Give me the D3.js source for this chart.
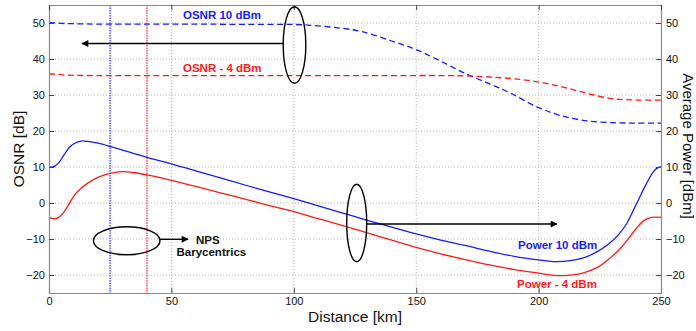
<!DOCTYPE html>
<html>
<head>
<meta charset="utf-8">
<script src="https://cdn.jsdelivr.net/npm/d3@7"></script>
<style>
  html, body { margin: 0; padding: 0; background: #fff; }
  svg { display: block; font-family: "Liberation Sans", Arial, Helvetica, sans-serif; }
</style>
</head>
<body>
<svg id="chart" width="696" height="331"></svg>
<script>
// Distance samples [km] and values for each trace
const osnr10Km  = [0, 5, 10, 20, 40, 60, 80, 100, 110, 120, 128, 140, 150, 160, 170, 180, 188, 200, 210, 220, 230, 240, 250];
const osnr10Val = [50.2, 49.9, 49.8, 49.7, 49.7, 49.7, 49.6, 49.6, 49.2, 48.5, 47.6, 45.0, 42.6, 39.4, 36.0, 33.1, 30.7, 26.5, 24.1, 22.8, 22.3, 22.2, 22.2];

const osnr4Km  = [0, 3, 8, 20, 60, 100, 140, 160, 170, 180, 190, 200, 210, 220, 230, 240, 250];
const osnr4Val = [35.9, 35.8, 35.5, 35.4, 35.4, 35.4, 35.4, 35.4, 35.3, 35.0, 34.5, 33.6, 32.2, 30.4, 29.0, 28.6, 28.6];

const pow10Km  = [0, 2, 4, 6, 8, 10, 13, 16, 20, 25, 30, 40, 50, 60, 70, 80, 90, 100, 110, 120, 130, 140, 150, 160, 170, 180, 190, 200, 207, 213, 218, 224, 229, 233, 236, 240, 244, 247, 249, 250];
const pow10Val = [10.0, 10.1, 11.2, 13.2, 15.2, 16.4, 17.2, 17.1, 16.6, 15.7, 14.7, 12.7, 10.9, 8.9, 7.0, 5.0, 3.1, 1.2, -0.8, -2.8, -4.8, -6.7, -8.6, -10.3, -11.8, -13.4, -14.8, -15.8, -16.3, -16.0, -15.3, -13.5, -11.2, -8.5, -5.7, -0.2, 5.3, 8.8, 9.9, 10.0];

const pow4Km  = [0, 2, 4, 6, 8, 10, 13, 16, 20, 25, 30, 35, 40, 50, 60, 70, 80, 90, 100, 110, 120, 130, 140, 150, 160, 170, 180, 190, 200, 206, 212, 218, 224, 229, 233, 236, 240, 243, 246, 248, 250];
const pow4Val = [-4.0, -4.4, -4.0, -2.6, -0.5, 1.8, 4.0, 5.6, 7.1, 8.2, 8.7, 8.4, 7.8, 6.3, 4.6, 2.8, 1.1, -0.7, -2.4, -4.35, -6.3, -8.3, -10.3, -12.3, -14.1, -15.7, -17.2, -18.5, -19.5, -20.1, -20.1, -19.5, -17.9, -15.4, -12.9, -10.5, -7.0, -4.9, -4.0, -3.9, -4.0];

// NPS barycentric distances [km]
const barycentricKm = [25, 40];

const xTicks = [0, 50, 100, 150, 200, 250];
const yTicks = [-20, -10, 0, 10, 20, 30, 40, 50];

const BLUE = "#1a1aff", RED = "#ff1a1a";

const svg = d3.select("#chart");
const L = 49, R = 661, T = 5, B = 293;

const x = d3.scaleLinear().domain([0, 250]).range([L, R]);
const y = d3.scaleLinear().domain([-25, 55]).range([B, T]);

// grid
const grid = svg.append("g").attr("stroke", "#b4b4b4").attr("stroke-width", 1).attr("stroke-dasharray", "1,2");
xTicks.slice(1, -1).forEach(t => grid.append("line")
  .attr("x1", x(t)).attr("x2", x(t)).attr("y1", T).attr("y2", B));
yTicks.forEach(t => grid.append("line")
  .attr("x1", L).attr("x2", R).attr("y1", y(t)).attr("y2", y(t)));

// barycentric markers
const baryColors = ["#4a4aff", "#ff4a4a"];
barycentricKm.forEach((km, i) => svg.append("line")
  .attr("x1", x(km)).attr("x2", x(km)).attr("y1", T).attr("y2", B)
  .attr("stroke", baryColors[i]).attr("stroke-opacity", 0.75)
  .attr("stroke-width", 2).attr("stroke-dasharray", "1.5,1"));

// traces
const line = d3.line().x(d => x(d[0])).y(d => y(d[1])).curve(d3.curveCatmullRom.alpha(0.5));
function trace(km, val, color, dashed) {
  svg.append("path").datum(d3.zip(km, val))
    .attr("d", line).attr("fill", "none")
    .attr("stroke", color).attr("stroke-width", 1.3)
    .attr("stroke-dasharray", dashed ? "6,3.5" : null);
}
trace(osnr10Km, osnr10Val, BLUE, true);
trace(osnr4Km, osnr4Val, RED, true);
trace(pow10Km, pow10Val, BLUE, false);
trace(pow4Km, pow4Val, RED, false);

// axes
const axisColor = "#8a8a8a";
const gx = svg.append("g").attr("transform", `translate(0,${B})`)
  .call(d3.axisBottom(x).tickValues(xTicks).tickSize(-5).tickPadding(4));
const gy = svg.append("g").attr("transform", `translate(${L},0)`)
  .call(d3.axisLeft(y).tickValues(yTicks).tickSize(-5).tickPadding(4));
const gr = svg.append("g").attr("transform", `translate(${R},0)`)
  .call(d3.axisRight(y).tickValues(yTicks).tickSize(-5).tickPadding(5));
const gt = svg.append("g").attr("transform", `translate(0,${T})`)
  .call(d3.axisTop(x).tickValues(xTicks).tickSize(-5).tickFormat(""));
[gx, gy, gr, gt].forEach(g => {
  g.select(".domain").attr("stroke", axisColor).attr("stroke-width", 1.2);
  g.selectAll(".tick line").attr("stroke", "#444");
  g.selectAll("text").attr("font-size", 11).attr("fill", "#111")
    .attr("font-family", "Liberation Sans, Arial, sans-serif");
});

// axis titles
svg.append("text").attr("transform", `translate(24,${(T + B) / 2}) rotate(-90)`)
  .attr("text-anchor", "middle").attr("font-size", 15.5).attr("fill", "#111").text("OSNR [dB]");
svg.append("text").attr("transform", `translate(683,${(T + B) / 2 - 3}) rotate(90)`)
  .attr("text-anchor", "middle").attr("font-size", 15).attr("fill", "#111").text("Average Power [dBm]");
svg.append("text").attr("x", (L + R) / 2).attr("y", 322)
  .attr("text-anchor", "middle").attr("font-size", 15.5).attr("fill", "#111").text("Distance [km]");

// arrowhead
svg.append("defs").append("marker").attr("id", "head")
  .attr("viewBox", "0 0 10 10").attr("refX", 9).attr("refY", 5)
  .attr("markerWidth", 10).attr("markerHeight", 7).attr("markerUnits", "userSpaceOnUse")
  .attr("orient", "auto")
  .append("path").attr("d", "M0,0 L10,5 L0,10 Z").attr("fill", "#000");

// callouts: ellipse + arrow
const ann = svg.append("g").attr("fill", "none").attr("stroke", "#000").attr("stroke-width", 1.4);
ann.append("ellipse").attr("cx", 294.5).attr("cy", 45).attr("rx", 11.3).attr("ry", 38.3);
ann.append("line").attr("x1", 283.2).attr("y1", 43.5).attr("x2", 82).attr("y2", 43.5).attr("marker-end", "url(#head)");
ann.append("ellipse").attr("cx", 356.7).attr("cy", 223).attr("rx", 10).attr("ry", 38.7);
ann.append("line").attr("x1", 366.7).attr("y1", 224).attr("x2", 557).attr("y2", 224).attr("marker-end", "url(#head)");
ann.append("ellipse").attr("cx", 126.7).attr("cy", 240.8).attr("rx", 33.3).attr("ry", 14);
ann.append("line").attr("x1", 160).attr("y1", 239.3).attr("x2", 188).attr("y2", 239.3).attr("marker-end", "url(#head)");

// trace labels
function label(tx, ty, txt, color) {
  svg.append("text").attr("x", tx).attr("y", ty).attr("font-size", 11.5).attr("font-weight", "bold")
    .attr("fill", color).text(txt);
}
label(183, 19, "OSNR 10 dBm", BLUE);
label(183, 71.5, "OSNR - 4 dBm", RED);
label(518, 249, "Power 10 dBm", BLUE);
label(517, 288, "Power - 4 dBm", RED);
label(196, 243.5, "NPS", "#111");
label(176.5, 256, "Barycentrics", "#111");
</script>
</body>
</html>
